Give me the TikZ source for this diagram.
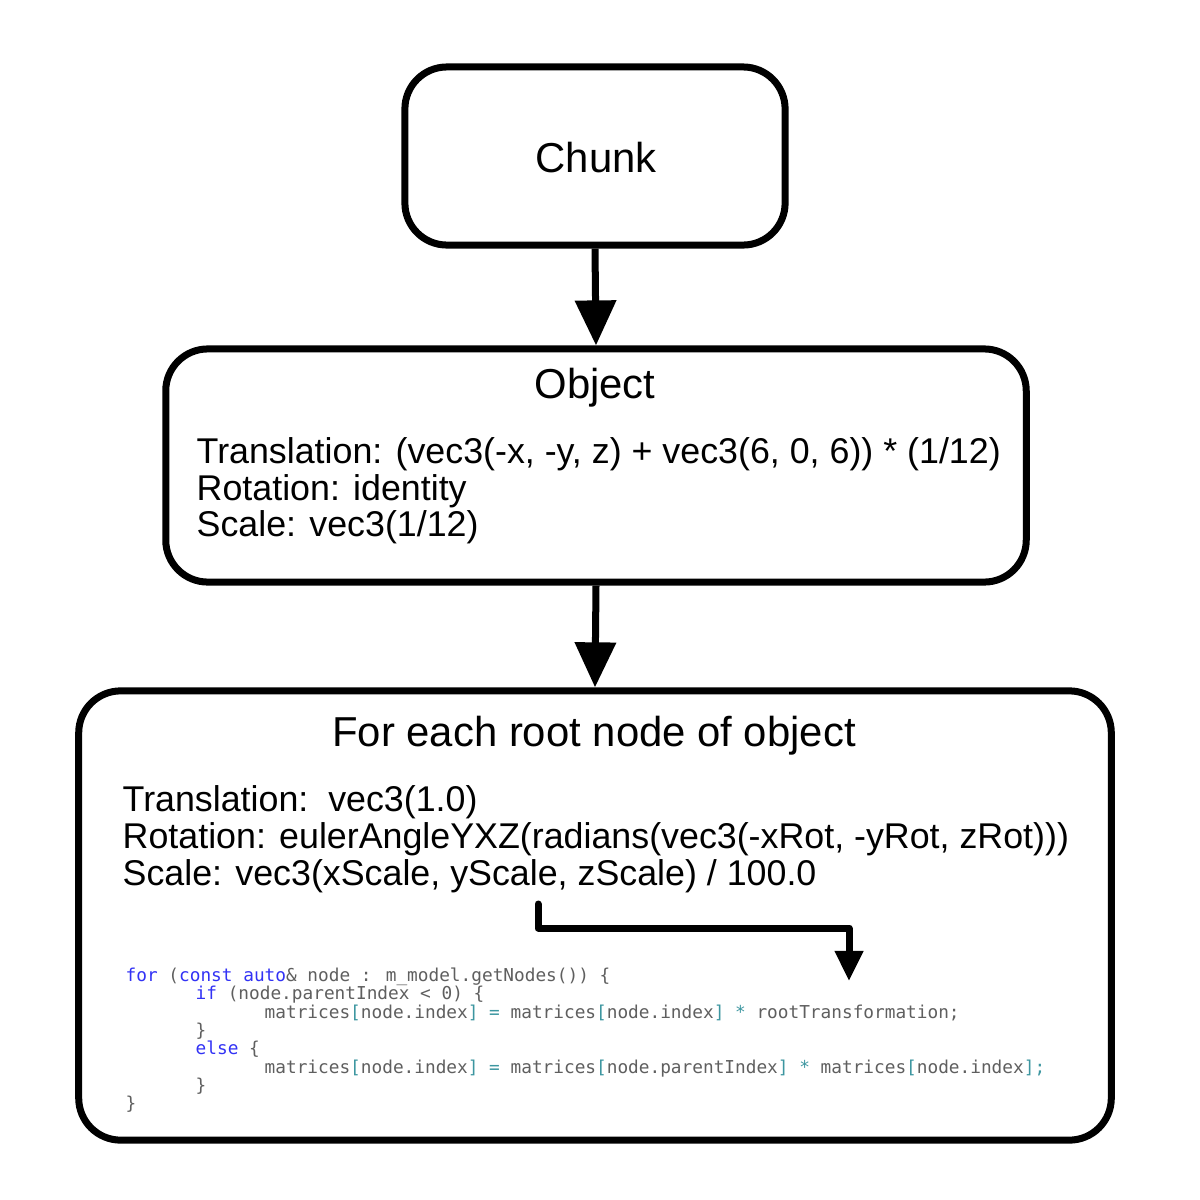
\documentclass[tikz,border=0pt]{standalone}
\usepackage{fontspec}
\setmainfont{Liberation Sans}
\newfontfamily\codefont{DejaVu Sans Mono}
\usetikzlibrary{arrows.meta}
\definecolor{codegrey}{RGB}{95,95,95}
\definecolor{codeblue}{RGB}{50,50,245}
\definecolor{codeteal}{RGB}{60,150,160}
\tikzset{
  box/.style={draw=black, line width=0.07cm, rounded corners=0.42cm, inner sep=0pt, fill=white},
  head/.style={font=\fontsize{11.9}{14}\selectfont, anchor=base, inner sep=0pt},
  body/.style={font=\fontsize{10.18}{12}\selectfont, anchor=base west, inner sep=0pt},
  code/.style={font=\codefont\fontsize{5.05}{6}\selectfont, text=codegrey, anchor=base west, inner sep=0pt},
  conn/.style={line width=0.07cm, -{Triangle[width=0.4cm,length=0.45cm]}},
  elbow/.style={line width=0.07cm, line join=round, line cap=round, -{Triangle[width=0.27cm,length=0.3cm]}}
}
\newcommand{\kw}[1]{\textcolor{codeblue}{#1}}
\newcommand{\op}[1]{\textcolor{codeteal}{#1}}
\begin{document}
\begin{tikzpicture}[x=0.01cm,y=-0.01cm]
\useasboundingbox[fill=white] (0,0) rectangle (1200,1200);
\node[box, minimum width=3.8cm, minimum height=1.78cm] (chunk) at (595,156) {};
\node[box, minimum width=8.6cm, minimum height=2.33cm] (object) at (596,465.5) {};
\node[box, minimum width=10.32cm, minimum height=4.49cm] (root) at (595,915.5) {};

\node[head] (chunkt) at (596,172) {Chunk};
\node[head] (objt) at (595,398) {Object};
\node[body] (o1) at (196,463) {Translation: (vec3(-x, -y, z) + vec3(6, 0, 6)) * (1/12)};
\node[body] (o2) at (196,500) {Rotation: identity};
\node[body] (o3) at (196,536) {Scale: vec3(1/12)};

\node[head] (roott) at (594,746) {For each root node of object};
\node[body] (r1) at (122,811) {Translation:\ \ vec3(1.0)};
\node[body] (r2) at (122,848) {Rotation: eulerAngleYXZ(radians(vec3(-xRot, -yRot, zRot)))};
\node[body] (r3) at (122,885) {Scale: vec3(xScale, yScale, zScale) / 100.0};

\node[code] (c1) at (125,981) {\kw{for} (\kw{const} \kw{auto}\& node : m\_model.getNodes()) \{};
\node[code] (c2) at (195,999.5) {\kw{if} (node.parentIndex < 0) \{};
\node[code] (c3) at (264,1018) {matrices\op{[}node.index\op{]} \op{=} matrices\op{[}node.index\op{]} \op{*} rootTransformation;};
\node[code] (c4) at (195,1036) {\}};
\node[code] (c5) at (195,1054.5) {\kw{else} \{};
\node[code] (c6) at (264,1073) {matrices\op{[}node.index\op{]} \op{=} matrices\op{[}node.parentIndex\op{]} \op{*} matrices\op{[}node.index\op{]}\op{;}};
\node[code] (c7) at (195,1091) {\}};
\node[code] (c8) at (125,1109.5) {\}};

\coordinate (es) at (538,904);
\coordinate (ec1) at (538,928);
\coordinate (ec2) at (849,928);
\coordinate (ee) at (849,981);

\draw[conn] (chunk.south) -- (object.north);
\draw[conn] (object.south) -- (root.north);
\draw[elbow] (es) -- (ec1) -- (ec2) -- (ee);
\end{tikzpicture}
\end{document}
